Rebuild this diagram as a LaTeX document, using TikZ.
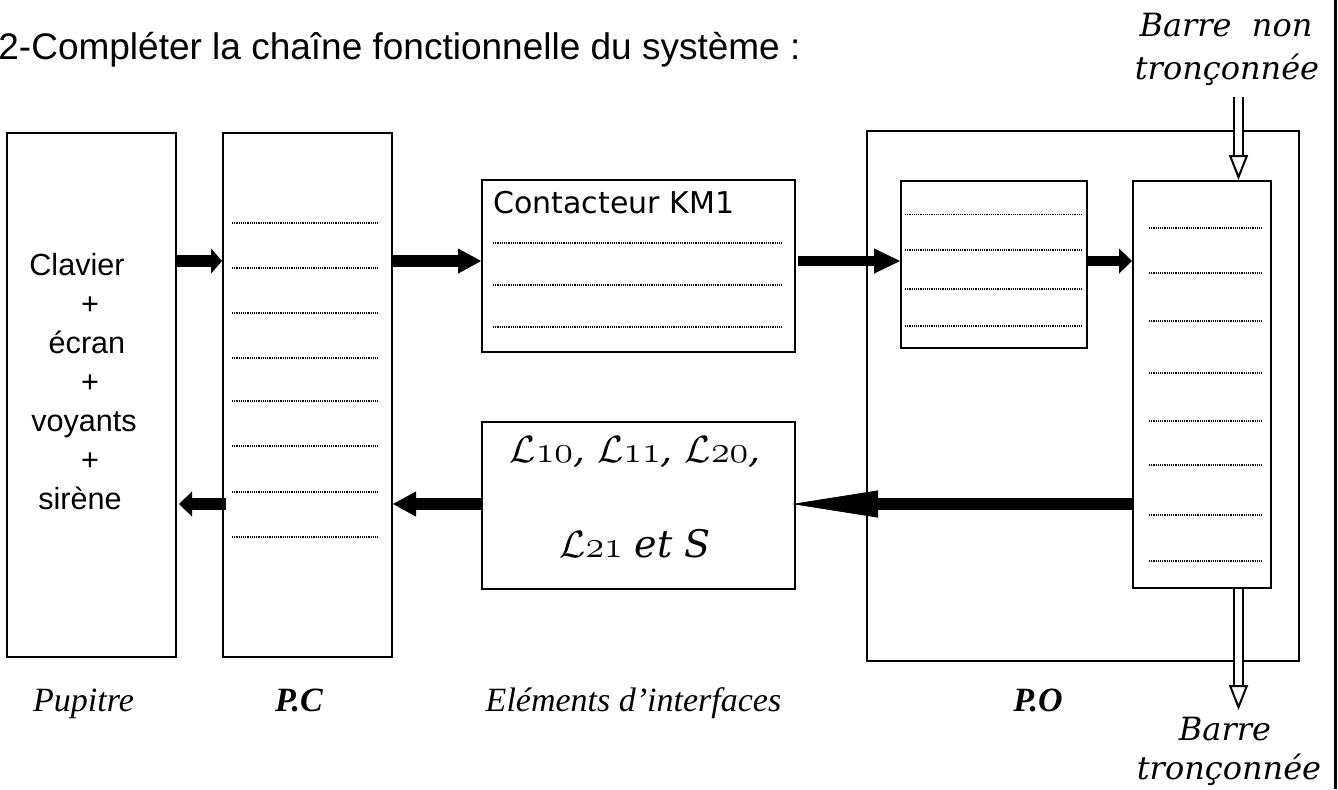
\documentclass[tikz,border=0pt]{standalone}
\usepackage{fix-cm}
\usepackage{fontspec}
\usetikzlibrary{arrows.meta}

\newfontfamily\arialfont{Liberation Sans}
\newfontfamily\timesfont{Liberation Serif}
\newfontfamily\lucidafont{DejaVu Sans}
\newfontfamily\corsivafont{DejaVu Serif}
\newcommand\vieux[1]{{\usefont{OML}{cmm}{m}{it}#1}}
\newcommand\capt[1]{$\mathcal{L}$\vieux{#1}}

\tikzset{
  boite/.style={draw, line width=1pt, inner sep=0pt},
  texte/.style={inner sep=0pt, anchor=base},
  legende/.style={texte, font=\timesfont\itshape\fontsize{17}{20}\selectfont},
  barre/.style={texte, font=\corsivafont\itshape\fontsize{16}{19}\selectfont},
  ligne/.style={line width=0.8pt, dash pattern=on 0.6pt off 0.5pt},
  fleche/.style={line width=5.75pt, -{Triangle[length=#1, width=12.5pt, line width=0.4pt]}},
  fleche/.default=11.5pt,
  creux/.style={double=white, double distance=3.5pt, line width=1pt,
    -{Triangle[open, fill=white, length=12.5pt, width=9.5pt, line width=1pt]}},
}

\begin{document}
\begin{tikzpicture}[x=0.5pt, y=-0.5pt]
    \useasboundingbox (0,0) rectangle (1338,789);

    % Titre
    \node[texte, anchor=base west, font=\arialfont\fontsize{18.5}{22}\selectfont] (titre) at (-2,59)
        {2-Compléter la chaîne fonctionnelle du système :};

    % Blocs
    \node[boite, minimum width=84.5pt, minimum height=262pt] (pupitre) at (91.5,395) {};
    \node[boite, minimum width=84.5pt, minimum height=262pt] (pc) at (307.5,395) {};
    \node[boite, minimum width=156.5pt, minimum height=86pt] (km) at (638.5,266) {};
    \node[boite, minimum width=156.5pt, minimum height=83.5pt] (capteurs) at (638.5,505.5) {};
    \node[boite, minimum width=216pt, minimum height=265pt] (po) at (1083,396) {};
    \node[boite, minimum width=93pt, minimum height=83.5pt] (actionneur) at (994,264.5) {};
    \node[boite, minimum width=69pt, minimum height=203.5pt] (effecteur) at (1202,384.5) {};

    % Textes des blocs
    \node[texte, anchor=center, align=center, font=\arialfont\fontsize{15.3}{19.5}\selectfont] (pupitretxt) at (84,382)
        {Clavier\hspace*{7pt}\\ \hspace*{6pt}+\\ \hspace*{3pt}écran\\ \hspace*{6pt}+\\ voyants\hspace*{2pt}\\ \hspace*{6pt}+\\ sirène\hspace*{4pt}};
    \node[texte, anchor=base west, font=\lucidafont\fontsize{15}{18}\selectfont] (kmtxt) at (493,213) {Contacteur KM1};
    \node[texte, anchor=center, align=center, font=\corsivafont\itshape\fontsize{19}{47.5}\selectfont] (capteurstxt) at (635,497)
        {\capt{10}, \capt{11}, \capt{20},\\ \capt{21} et S};

    % Lignes a completer
    \foreach \y in {223,268,313,358,401,446,492,537} \draw[ligne] (232,\y) -- (378,\y);
    \foreach \y in {243,285,327} \draw[ligne] (493,\y) -- (782,\y);
    \foreach \y in {214.6,250,289,326} \draw[ligne] (905,\y) -- (1082,\y);
    \foreach \y in {228,273,321,373,421,465,515,561} \draw[ligne] (1149,\y) -- (1262,\y);

    % Fleches
    \coordinate (haut) at (0,261);
    \coordinate (bas) at (0,504);
    \draw[fleche=5.5pt] (pupitre.east |- haut) -- (pc.west |- haut);
    \draw[fleche] (pc.east |- haut) -- (km.west |- haut);
    \draw[fleche=13pt, line width=5pt] ([xshift=1pt]km.east |- haut) -- (actionneur.west |- haut);
    \draw[fleche=6.5pt, line width=5pt] (actionneur.east |- haut) -- (effecteur.west |- haut);
    \draw[line width=5.75pt, -{Triangle[length=43pt, width=13.5pt, line width=0.4pt]}] (effecteur.west |- bas) -- ([xshift=-2pt]capteurs.east |- bas);
    \draw[fleche] (capteurs.west |- bas) -- (pc.east |- bas);
    \draw[fleche=6.5pt, line width=6pt] ([xshift=2pt]pc.west |- bas) -- ([xshift=1pt]pupitre.east |- bas);

    % Barre
    \coordinate (barreA) at (1238.5,97);
    \coordinate (barreB) at (1238.5,710);
    \draw[creux] (barreA) -- (barreA |- effecteur.north);
    \draw[creux] (barreA |- effecteur.south) -- (barreB);
    \node[barre] (barrenon) at (1226,36) {Barre~~non};
    \node[barre] (barrenon2) at (1227,79) {tronçonnée};
    \node[barre] (barretr) at (1225,740) {Barre};
    \node[barre] (barretr2) at (1229,779) {tronçonnée};

    % Legendes
    \node[legende] (lpupitre) at (83.5,711) {Pupitre};
    \node[legende, font=\timesfont\bfseries\itshape\fontsize{17}{20}\selectfont] (lpc) at (299,711) {P.C};
    \node[legende] (linterface) at (633.5,711) {Eléments d’interfaces};
    \node[legende, font=\timesfont\bfseries\itshape\fontsize{17}{20}\selectfont] (lpo) at (1038,711) {P.O};

    % Bord
    \draw[line width=1.5pt] (1335,0) -- (1335,789);
\end{tikzpicture}
\end{document}
